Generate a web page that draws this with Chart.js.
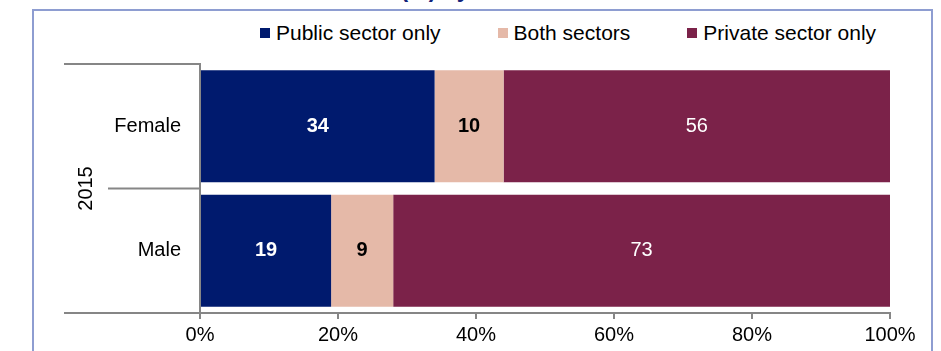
<!DOCTYPE html>
<html>
<head>
<meta charset="utf-8">
<script src="https://cdn.jsdelivr.net/npm/chart.js@4.4.1/dist/chart.umd.min.js"></script>
<style>
  html, body { margin: 0; padding: 0; background: #fff; overflow: hidden; }
  body { width: 941px; height: 351px; position: relative; font-family: "Liberation Sans", Arial, sans-serif; }
  #frame { position: absolute; left: 32px; top: 9px; width: 897px; height: 400px; border: 2px solid #8e9dd1; }
  #title { position: absolute; left: 58px; top: -22px; font-size: 23px; line-height: 23px; font-weight: bold; color: #12237a; white-space: nowrap; }
  #legend { position: absolute; left: 260px; top: 21px; display: flex; align-items: center; font-size: 21px; line-height: 24px; color: #000; }
  #legend .item { display: flex; align-items: center; margin-right: 57px; }
  #legend .box { width: 10px; height: 10px; margin-right: 6px; }
  #wrap { position: absolute; left: 0; top: 0; width: 941px; height: 351px; }
</style>
</head>
<body>
<div id="title">Medical doctors in each sector (%) by sex</div>
<div id="frame"></div>
<div id="legend"></div>
<div id="wrap"><canvas id="sectorChart"></canvas></div>

<script>
// 数据
const categories = ['Female', 'Male'];
const groupLabel = '2015';
const seriesNames = ['Public sector only', 'Both sectors', 'Private sector only'];
const publicOnly = [34, 19];
const bothSectors = [10, 9];
const privateOnly = [56, 73];
const xTicks = [0, 20, 40, 60, 80, 100];

const seriesColors = ['#001a6e', '#e5b9a8', '#7b2249'];
const axisColor = '#868686';
const fontFamily = '"Liberation Sans", Arial, sans-serif';

// 分组标签和分隔线（2015）
const groupAxisPlugin = {
    id: 'groupAxis',
    afterDraw(chart) {
        const ctx = chart.ctx;
        const area = chart.chartArea;
        const y = chart.scales.y;
        const mid = (y.getPixelForValue(0) + y.getPixelForValue(1)) / 2;

        ctx.save();
        ctx.strokeStyle = axisColor;
        ctx.lineWidth = 2;
        ctx.beginPath();
        ctx.moveTo(area.left - 136, area.top);
        ctx.lineTo(area.left, area.top);
        ctx.moveTo(area.left - 92, mid);
        ctx.lineTo(area.left, mid);
        ctx.moveTo(area.left - 136, area.bottom);
        ctx.lineTo(area.left, area.bottom);
        ctx.stroke();

        // 竖排年份
        ctx.translate(area.left - 114, (area.top + area.bottom) / 2);
        ctx.rotate(-Math.PI / 2);
        ctx.fillStyle = '#000';
        ctx.font = '20px ' + fontFamily;
        ctx.textAlign = 'center';
        ctx.textBaseline = 'middle';
        ctx.fillText(groupLabel, 0, 0);
        ctx.restore();
    }
};

// 条形内的数值标签
const valueLabelPlugin = {
    id: 'valueLabels',
    afterDatasetsDraw(chart) {
        const ctx = chart.ctx;
        const area = chart.chartArea;
        ctx.save();
        ctx.textAlign = 'center';
        ctx.textBaseline = 'middle';
        chart.data.datasets.forEach((ds, i) => {
            const meta = chart.getDatasetMeta(i);
            ctx.fillStyle = ds.valueColor;
            ctx.font = ds.valueWeight + ' 20px ' + fontFamily;
            meta.data.forEach((bar, j) => {
                const start = Math.min(bar.base, bar.x);
                const end = Math.min(Math.max(bar.base, bar.x), area.right);
                ctx.fillText(String(ds.data[j]), (start + end) / 2, bar.y);
            });
        });
        ctx.restore();
    }
};

const datasets = [
    { label: seriesNames[0], data: publicOnly, backgroundColor: seriesColors[0], valueColor: '#fff', valueWeight: 'bold' },
    { label: seriesNames[1], data: bothSectors, backgroundColor: seriesColors[1], valueColor: '#000', valueWeight: 'bold' },
    { label: seriesNames[2], data: privateOnly, backgroundColor: seriesColors[2], valueColor: '#fff', valueWeight: 'normal' }
].map(ds => Object.assign(ds, {
    borderWidth: 0,
    barPercentage: 0.9,
    categoryPercentage: 1.0
}));

const chart = new Chart(document.getElementById('sectorChart'), {
    type: 'bar',
    data: { labels: categories, datasets: datasets },
    options: {
        indexAxis: 'y',
        responsive: true,
        maintainAspectRatio: false,
        animation: false,
        layout: { padding: { top: 64, right: 51, bottom: 0, left: 64 } },
        plugins: {
            legend: { display: false },
            tooltip: { enabled: false }
        },
        scales: {
            x: {
                stacked: true,
                min: 0,
                max: 100,
                afterBuildTicks(scale) {
                    scale.ticks = xTicks.map(v => ({ value: v }));
                },
                afterFit(scale) { scale.height = 38; },
                grid: { drawOnChartArea: false, drawTicks: true, tickLength: 6, color: axisColor, lineWidth: 2 },
                border: { display: true, color: axisColor, width: 2 },
                ticks: {
                    padding: 4,
                    color: '#000',
                    font: { family: fontFamily, size: 20 },
                    callback: v => v + '%'
                }
            },
            y: {
                stacked: true,
                afterFit(scale) { scale.width = 136; },
                grid: { display: false },
                border: { display: true, color: axisColor, width: 2 },
                ticks: {
                    padding: 11,
                    color: '#000',
                    font: { family: fontFamily, size: 20 }
                }
            }
        }
    },
    plugins: [groupAxisPlugin, valueLabelPlugin]
});

// 图例
const legendEl = document.getElementById('legend');
chart.data.datasets.forEach(ds => {
    const item = document.createElement('div');
    item.className = 'item';
    item.innerHTML = `<span class="box" style="background:${ds.backgroundColor}"></span><span>${ds.label}</span>`;
    legendEl.appendChild(item);
});
</script>
</body>
</html>
